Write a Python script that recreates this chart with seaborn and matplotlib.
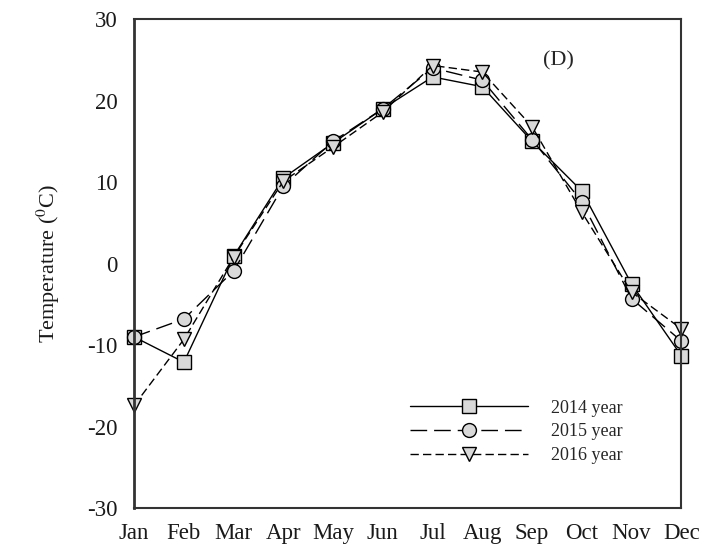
import matplotlib
matplotlib.use("Agg")
import matplotlib.pyplot as plt
import seaborn as sns
import pandas as pd

months = ["Jan", "Feb", "Mar", "Apr", "May", "Jun", "Jul", "Aug", "Sep", "Oct", "Nov", "Dec"]
t2014 = [-9.0, -12.1, 0.9, 10.5, 14.8, 19.0, 22.9, 21.7, 15.0, 8.9, -2.5, -11.3]
t2015 = [-9.0, -6.8, -0.9, 9.5, 15.0, 19.0, 24.0, 22.5, 15.2, 7.6, -4.3, -9.5]
t2016 = [-17.4, -9.3, 0.8, 10.1, 14.3, 18.6, 24.3, 23.5, 16.8, 6.3, -3.5, -8.0]
labels = ["2014 year", "2015 year", "2016 year"]

sns.set_style("white")
plt.rcParams['font.family'] = ['Liberation Serif', 'DejaVu Serif']
plt.rcParams['mathtext.fontset'] = 'stix'
plt.rcParams['axes.unicode_minus'] = False

fig = plt.figure(figsize=(7.06, 5.44), dpi=100)
ax = fig.add_axes([0.190, 0.066, 0.775, 0.899])

x = list(range(len(months)))
series = [t2014, t2015, t2016]
markers = ['s', 'o', 'v']
styles = ['-', (0, (12, 5)), (0, (6, 3))]
for vals, lab, mk, ls in zip(series, labels, markers, styles):
    df = pd.DataFrame({"m": x, "t": vals})
    sns.lineplot(data=df, x="m", y="t", ax=ax, color="black", lw=1.0,
                 linestyle=ls, marker=mk, markersize=10,
                 markerfacecolor="#d9d9d9", markeredgecolor="black",
                 markeredgewidth=1.0, label=lab, clip_on=False)

ax.set_xlim(0, 11)
ax.set_ylim(-30, 30)
ax.set_xticks(x)
ax.set_xticklabels(months)
ax.set_yticks([-30, -20, -10, 0, 10, 20, 30])
ax.tick_params(axis='both', length=0, labelsize=16.5, colors='#1a1a1a')
ax.tick_params(axis='x', pad=11)
ax.tick_params(axis='y', pad=12)
ax.set_xlabel("")
ax.set_ylabel("Temperature ($^{0}$C)", fontsize=16, color='#1a1a1a', labelpad=18)
for s in ax.spines.values():
    s.set_visible(True)
    s.set_color('#333333')
    s.set_linewidth(1.5)
ax.spines['left'].set_linewidth(2.0)

ax.text(0.775, 0.915, "(D)", transform=ax.transAxes, fontsize=16, ha='center', va='center')

leg = ax.legend(loc='upper left', bbox_to_anchor=(0.475, 0.255), frameon=False,
                handlelength=6.5, handletextpad=1.3, labelspacing=0.38, fontsize=13)

fig.savefig("out.png", dpi=100)
